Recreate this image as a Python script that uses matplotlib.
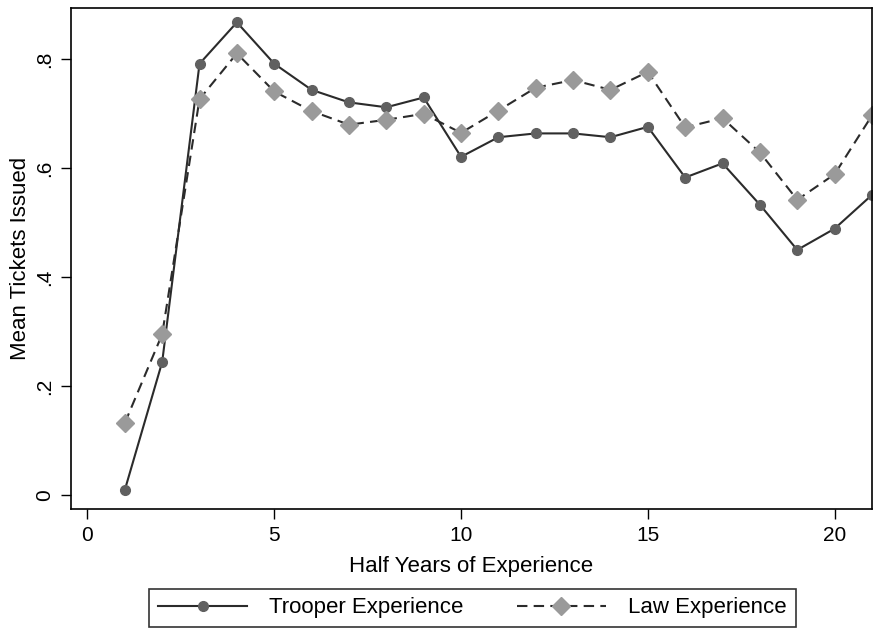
import matplotlib
matplotlib.use('Agg')
import matplotlib.pyplot as plt

plt.rcParams['font.family'] = ['Liberation Sans', 'DejaVu Sans']

half_years = list(range(1, 22))
trooper = [0.009, 0.244, 0.792, 0.868, 0.792, 0.744, 0.721, 0.712, 0.730, 0.621,
           0.657, 0.664, 0.664, 0.657, 0.676, 0.583, 0.609, 0.533, 0.450, 0.489, 0.551]
law = [0.132, 0.295, 0.727, 0.811, 0.741, 0.705, 0.680, 0.689, 0.700, 0.665,
       0.706, 0.748, 0.762, 0.744, 0.777, 0.675, 0.692, 0.629, 0.542, 0.589, 0.697]

fig = plt.figure(figsize=(8.79, 6.31), dpi=100)
ax = fig.add_axes([0.0808, 0.1933, 0.9112, 0.7937])

ax.plot(half_years, trooper, color='#2b2b2b', lw=1.5, marker='o', ms=7,
        markerfacecolor='#606060', markeredgecolor='#606060', label='Trooper Experience')
ax.plot(half_years, law, color='#2b2b2b', lw=1.5, ls=(0, (5, 3)), marker='D', ms=9,
        markerfacecolor='#9a9a9a', markeredgecolor='#9a9a9a', label='Law Experience')

ax.set_xlim(-0.44, 21)
ax.set_ylim(-0.026, 0.894)
ax.set_xticks([0, 5, 10, 15, 20])
ax.set_yticks([0, 0.2, 0.4, 0.6, 0.8])
ax.set_yticklabels(['0', '.2', '.4', '.6', '.8'], rotation=90, va='center')
ax.tick_params(direction='out', length=7, width=1, labelsize=15, colors='black', pad=5)
for s in ax.spines.values():
    s.set_linewidth(1.2)

ax.set_xlabel('Half Years of Experience', fontsize=16, labelpad=8)
ax.set_ylabel('Mean Tickets Issued', fontsize=16, labelpad=3)

leg = fig.legend(loc='center', bbox_to_anchor=(0.5375, 0.0365), ncol=2, frameon=True,
                 fancybox=False, edgecolor='black', fontsize=16, handlelength=4.0,
                 handletextpad=1.0, columnspacing=2.4, borderpad=0.4)
leg.get_frame().set_linewidth(1.2)

fig.savefig('out.png', dpi=100, facecolor='white')
